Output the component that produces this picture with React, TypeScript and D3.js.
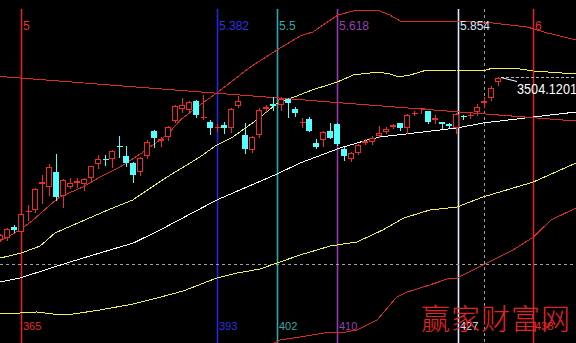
import React from 'react';
import * as d3 from 'd3';

const W = 576;
const H = 343;

// ---- candles (bar index starts at firstBar) ----
const firstBar = 362;
const opens = [3276.0, 3278.3, 3294.7, 3287.6, 3314.7, 3318.0, 3354.9, 3350.7, 3370.7, 3337.6,
  3350.7, 3356.3, 3353.9, 3362.3, 3382.4, 3389.4, 3388.9, 3407.6, 3394.1, 3383.3,
  3371.7, 3393.6, 3428.6, 3415.1, 3419.7, 3442.6, 3459.4, 3458.0, 3470.6, 3446.3,
  3441.2, 3432.3, 3437.0, 3432.3, 3463.6, 3423.0, 3402.0, 3423.0, 3458.9, 3465.9,
  3465.0, 3472.9, 3458.9, 3439.3, 3444.9, 3412.3, 3416.0, 3428.6, 3437.9, 3403.4,
  3389.4, 3397.3, 3412.3, 3412.7, 3422.1, 3427.2, 3433.7, 3439.3, 3432.3, 3452.4,
  3460.8, 3456.6, 3444.5, 3441.7, 3438.4, 3432.3, 3449.1, 3449.1, 3455.7, 3467.3,
  3475.3, 3496.7];
const highs = [3284.0, 3292.8, 3297.0, 3313.3, 3325.0, 3348.3, 3367.0, 3382.4, 3396.4, 3361.0,
  3362.3, 3363.3, 3362.3, 3380.1, 3395.0, 3395.0, 3402.0, 3421.6, 3408.1, 3385.7,
  3392.7, 3416.0, 3430.0, 3420.7, 3435.6, 3465.0, 3475.3, 3470.6, 3472.0, 3479.0,
  3444.0, 3438.4, 3441.7, 3461.3, 3477.6, 3439.3, 3421.6, 3460.3, 3465.0, 3476.7,
  3476.7, 3474.3, 3461.7, 3446.3, 3447.7, 3416.9, 3428.6, 3439.3, 3439.3, 3406.7,
  3399.7, 3410.4, 3416.9, 3421.6, 3435.6, 3434.7, 3438.4, 3440.3, 3451.9, 3456.6,
  3461.3, 3457.0, 3451.0, 3441.7, 3440.3, 3453.3, 3451.5, 3455.7, 3466.4, 3476.7,
  3492.1, 3504.12];
const lows = [3274.0, 3276.0, 3286.7, 3286.3, 3304.0, 3315.7, 3327.3, 3339.0, 3332.0, 3322.7,
  3348.3, 3350.7, 3346.0, 3357.7, 3376.3, 3381.0, 3378.7, 3392.7, 3380.1, 3357.7,
  3367.0, 3390.3, 3406.7, 3407.6, 3416.0, 3441.7, 3455.7, 3455.7, 3448.7, 3444.9,
  3423.9, 3429.0, 3425.3, 3427.7, 3462.7, 3398.3, 3399.7, 3420.7, 3455.7, 3458.0,
  3458.0, 3448.7, 3449.6, 3434.7, 3428.6, 3405.3, 3408.1, 3418.3, 3408.5, 3388.0,
  3386.6, 3395.9, 3409.9, 3409.9, 3420.7, 3425.3, 3432.3, 3430.0, 3426.3, 3451.0,
  3453.3, 3440.0, 3439.3, 3432.3, 3433.3, 3425.3, 3445.4, 3446.3, 3451.0, 3462.7,
  3472.0, 3493.0];
const closes = [3282.5, 3290.9, 3290.0, 3311.9, 3317.1, 3346.9, 3357.2, 3377.7, 3336.7, 3360.0,
  3355.3, 3358.1, 3360.9, 3379.6, 3388.9, 3388.0, 3401.1, 3405.7, 3383.3, 3367.0,
  3391.3, 3413.7, 3418.3, 3416.9, 3433.7, 3463.6, 3464.5, 3469.7, 3451.0, 3448.2,
  3433.3, 3434.2, 3432.3, 3459.9, 3470.6, 3403.4, 3419.7, 3458.0, 3461.7, 3464.1,
  3473.9, 3467.3, 3453.3, 3441.2, 3429.0, 3406.7, 3426.7, 3419.3, 3409.9, 3394.1,
  3397.3, 3408.5, 3414.6, 3419.3, 3425.3, 3430.9, 3437.0, 3432.3, 3451.0, 3454.3,
  3461.3, 3440.7, 3446.3, 3438.9, 3435.1, 3451.9, 3448.2, 3451.0, 3462.7, 3470.6,
  3489.3, 3503.3];

// ---- indicator lines: [bar, price] ----
const redUpperBand: [number, number][] = [
  [362.0, 3274.6], [364.8, 3290.0], [366.7, 3304.0], [369.1, 3325.0], [370.5, 3336.2],
  [373.8, 3350.2], [376.2, 3364.2], [379.1, 3378.2], [382.4, 3399.2], [385.8, 3423.0],
  [387.7, 3444.0], [390.1, 3462.2], [392.9, 3481.8], [397.7, 3518.2], [401.5, 3542.0],
  [404.8, 3561.6], [406.6, 3567.2], [410.2, 3591.0], [412.9, 3598.0], [415.8, 3598.0],
  [417.6, 3591.0], [419.1, 3582.6], [427.2, 3582.6], [432.3, 3579.8], [437.2, 3574.2],
  [440.1, 3565.8], [444.2, 3556.0]];
const redLowerBand: [number, number][] = [
  [400.5, 3129.0], [401.9, 3136.0], [404.8, 3140.2], [409.1, 3147.2], [410.5, 3145.8],
  [412.9, 3150.0], [415.8, 3164.0], [418.6, 3196.2], [420.1, 3203.2], [423.3, 3213.0],
  [425.8, 3221.4], [427.2, 3222.8], [431.5, 3243.8], [435.2, 3262.0], [438.1, 3280.2],
  [440.6, 3304.0], [444.2, 3320.8]];
const yellowUpper: [number, number][] = [
  [362.0, 3250.8], [365.0, 3257.8], [367.7, 3267.6], [369.8, 3285.8], [373.4, 3301.2],
  [377.7, 3319.4], [380.9, 3332.0], [385.8, 3364.2], [390.5, 3392.2], [392.9, 3409.0],
  [395.2, 3420.2], [398.6, 3444.0], [401.4, 3466.4], [406.5, 3486.0], [410.1, 3497.2],
  [412.4, 3507.0], [415.9, 3511.2], [417.6, 3508.4], [418.9, 3504.2], [420.5, 3507.0],
  [422.9, 3514.0], [427.1, 3514.0], [430.9, 3512.6], [432.3, 3516.8], [435.2, 3516.8],
  [438.1, 3512.6], [444.2, 3508.4]];
const whiteMiddle: [number, number][] = [
  [362.0, 3217.2], [364.8, 3222.8], [371.5, 3243.8], [376.2, 3257.8], [381.0, 3271.8],
  [384.8, 3290.0], [392.9, 3332.0], [401.5, 3368.4], [404.8, 3383.8], [410.5, 3404.8],
  [414.4, 3416.0], [416.2, 3420.2], [427.2, 3432.8], [430.9, 3439.8], [438.1, 3448.2],
  [444.2, 3455.2]];
const yellowLower: [number, number][] = [
  [362.0, 3172.4], [364.8, 3173.8], [367.2, 3175.2], [369.5, 3172.4], [371.5, 3171.0],
  [376.2, 3178.0], [381.0, 3186.4], [384.4, 3194.8], [388.1, 3204.6], [392.9, 3222.8],
  [395.8, 3229.8], [399.1, 3235.4], [401.5, 3243.8], [404.8, 3255.0], [409.1, 3267.6],
  [412.9, 3273.2], [416.6, 3290.0], [419.6, 3306.8], [423.3, 3318.0], [427.2, 3322.2],
  [430.9, 3336.2], [438.1, 3357.2], [444.2, 3383.8]];
const trendLine: [number, number][] = [[362.0, 3504.9], [444.2, 3442.6]];

// ---- Fibonacci time zones ----
const fibStartBar = 365;
const fibEndBar = 438;
const fibLevels = [5, 5.382, 5.5, 5.618, 5.854, 6];
const fibTopLabels = ['5', '5.382', '5.5', '5.618', '5.854', '6'];
const fibBottomLabels = ['365', '393', '402', '410', '427', '438'];
const fibColors = ['#e02424', '#2626e0', '#30a8a8', '#9a38b0', '#dce8ff', '#e02424'];
const fibTextColors = ['#e03030', '#3030e0', '#34a8a8', '#9a40b0', '#dce4f8', '#e03030'];

// ---- cursor / price label ----
const cursorBar = 431;
const cursorPrice = 3242.4;
const lastHighLabel = '3504.1201';
const watermark = '赢家财富网';

const RED = '#ee2a2a';
const CYAN = '#54ffff';

export default function App() {
  const x = d3.scaleLinear().domain([fibStartBar, fibEndBar]).range([21.3, 532.7]);
  const y = d3.scaleLinear().domain([3131.8, 3612]).range([H, 0]);
  const line = d3.line<[number, number]>().x(d => x(d[0])).y(d => y(d[1]));

  const fibBars = fibLevels.map(l => fibStartBar + (l - 5) * (fibEndBar - fibStartBar));
  const lastIdx = opens.length - 1;
  const lastBar = firstBar + lastIdx;
  const lastX = Math.round(x(lastBar));
  const lastHighY = Math.round(y(highs[lastIdx])) + 0.5;

  const candles = opens.map((o, i) => {
    const c = closes[i];
    const hi = highs[i];
    const lo = lows[i];
    const cx = Math.round(x(firstBar + i));
    const up = c >= o;
    const col = up ? RED : CYAN;
    const yTop = Math.round(y(Math.max(o, c)));
    const yBot = Math.round(y(Math.min(o, c)));
    const yHi = Math.round(y(hi));
    const yLo = Math.round(y(lo));
    const wx = cx + 0.5;
    const els: React.ReactNode[] = [];
    if (yBot - yTop < 2) {
      els.push(<line key="w" x1={wx} x2={wx} y1={yHi} y2={yLo + 1} stroke={col} />);
      els.push(<line key="b" x1={cx - 2.5} x2={cx + 3.5} y1={yTop + 0.5} y2={yTop + 0.5} stroke={col} />);
    } else if (up) {
      els.push(<line key="w1" x1={wx} x2={wx} y1={yHi} y2={yTop} stroke={col} />);
      els.push(<line key="w2" x1={wx} x2={wx} y1={yBot} y2={yLo + 1} stroke={col} />);
      els.push(<rect key="b" x={cx - 2.5} y={yTop + 0.5} width={5} height={yBot - yTop - 1} fill="#000" stroke={col} />);
    } else {
      els.push(<line key="w" x1={wx} x2={wx} y1={yHi} y2={yLo + 1} stroke={col} />);
      els.push(<rect key="b" x={cx - 3} y={yTop} width={6} height={yBot - yTop} fill={col} />);
    }
    return <g key={i} shapeRendering="crispEdges">{els}</g>;
  });

  const lineStyle = { fill: 'none', strokeWidth: 1, shapeRendering: 'crispEdges' } as const;

  return (
    <svg width={W} height={H} style={{ position: 'absolute', left: 0, top: 0, display: 'block' }}
      fontFamily="'Liberation Sans', Arial, sans-serif">
      <rect width={W} height={H} fill="#000" />
      {/* fib vertical lines */}
      {fibBars.map((b, i) => {
        const fx = Math.round(x(b)) + 0.5;
        return <line key={'f' + i} x1={fx} x2={fx} y1={9} y2={H} stroke={fibColors[i]} strokeWidth={1.6} />;
      })}
      {/* cursor dashed lines */}
      <line x1={0} x2={W} y1={Math.round(y(cursorPrice)) + 0.5} y2={Math.round(y(cursorPrice)) + 0.5}
        stroke="#a0a0a0" strokeDasharray="3,3" shapeRendering="crispEdges" />
      <line x1={Math.round(x(cursorBar)) + 0.5} x2={Math.round(x(cursorBar)) + 0.5} y1={9} y2={H}
        stroke="#a0a0a0" strokeDasharray="3,3" shapeRendering="crispEdges" />
      {/* indicator lines */}
      <path d={line(yellowLower) || ''} stroke="#f0f05a" {...lineStyle} />
      <path d={line(whiteMiddle) || ''} stroke="#ffffff" {...lineStyle} />
      <path d={line(yellowUpper) || ''} stroke="#f0f05a" {...lineStyle} />
      <path d={line(redLowerBand) || ''} stroke="#dc2828" {...lineStyle} />
      <path d={line(redUpperBand) || ''} stroke="#dc2828" {...lineStyle} />
      <path d={line(trendLine) || ''} stroke="#dc2a2a" {...lineStyle} />
      {/* candles */}
      {candles}
      {/* last high marker */}
      <line x1={lastX + 3} x2={W} y1={lastHighY} y2={lastHighY} stroke="#b4b4b4" strokeDasharray="3,2" shapeRendering="crispEdges" />
      <line x1={lastX + 3} y1={lastHighY} x2={lastX + 19} y2={lastHighY + 4} stroke="#ffffff" />
      <text x={517} y={94} fill="#ffffff" fontSize={14} textLength={60} lengthAdjust="spacingAndGlyphs">{lastHighLabel}</text>
      {/* fib labels */}
      {fibBars.map((b, i) => (
        <text key={'t' + i} x={Math.round(x(b)) + 2} y={29.5} fill={fibTextColors[i]} fontSize={12}>{fibTopLabels[i]}</text>
      ))}
      {fibBars.map((b, i) => (
        <text key={'bl' + i} x={Math.round(x(b)) + 2} y={330} fill={fibTextColors[i]} fontSize={11}>{fibBottomLabels[i]}</text>
      ))}
      {/* watermark */}
      <text x={421} y={330} fill="#e02424" fontSize={29} fontWeight={300}
        fontFamily="'Noto Sans CJK SC', sans-serif" letterSpacing={1}>{watermark}</text>
    </svg>
  );
}
